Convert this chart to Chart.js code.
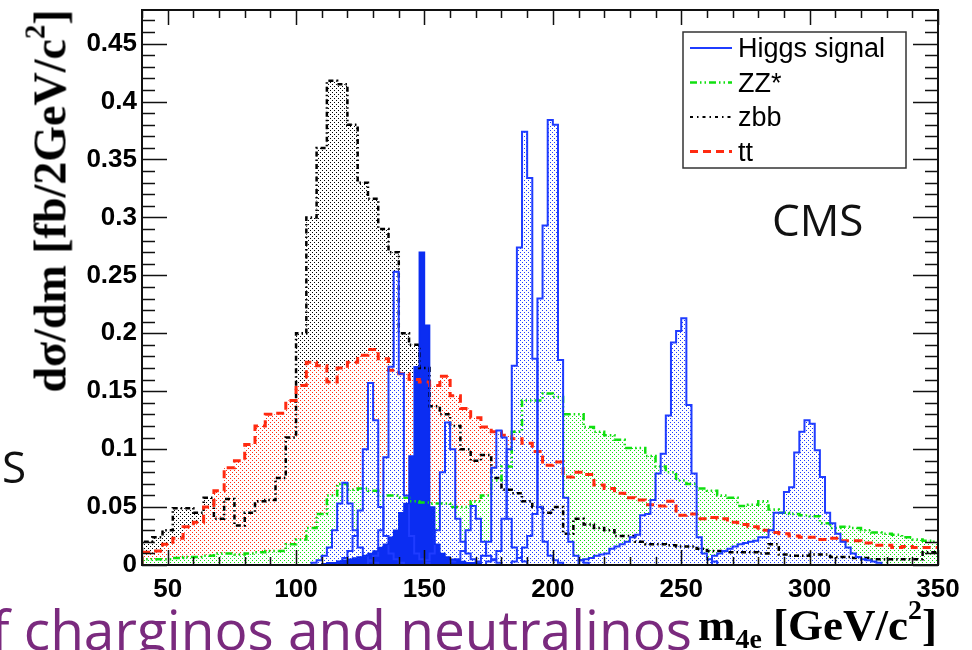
<!DOCTYPE html>
<html>
<head>
<meta charset="utf-8">
<script src="https://cdn.jsdelivr.net/npm/chart.js@4.4.0/dist/chart.umd.min.js"></script>
<style>
  html, body { margin: 0; padding: 0; background: #fff; }
  #wrap { position: relative; width: 972px; height: 650px; overflow: hidden; }
  #chart { position: absolute; left: 0; top: 0; }
  .txt { position: absolute; white-space: nowrap; line-height: 1; }
  #ytitle { font: bold 46px "Liberation Serif", serif; left: 50px; top: 201px; transform: translate(-50%, -50%) rotate(-90deg); }
  #xtitle { font: bold 45px "Liberation Serif", serif; left: 698px; top: 599px; }
  sup { font-size: 62%; vertical-align: 0.75em; line-height: 0; }
  sub { font-size: 62%; vertical-align: -0.3em; line-height: 0; }
  #cms { font: 44px "Open Sans", sans-serif; left: 772px; top: 189px; color: #111; }
  #slideS { font: 44px "Open Sans", sans-serif; left: 2px; top: 436px; color: #111; }
  #slideLine { font: 55px "Open Sans", sans-serif; left: -9px; top: 591px; color: #7a2a7e; }
</style>
</head>
<body>
<div id="wrap">
  <canvas id="chart" width="972" height="650"></canvas>
  <div class="txt" id="ytitle">dσ/dm [fb/2GeV/c<sup>2</sup>]</div>
  <div class="txt" id="slideLine">f charginos and neutralinos</div>
  <div class="txt" id="xtitle">m<sub>4e</sub> [GeV/c<sup>2</sup>]</div>
  <div class="txt" id="cms">CMS</div>
  <div class="txt" id="slideS">S</div>
</div>
<script>
// axis
const X_MIN = 40, X_MAX = 350, Y_MAX = 0.479;
const xTicks = [50, 100, 150, 200, 250, 300, 350];
const yTicks = [0, 0.05, 0.1, 0.15, 0.2, 0.25, 0.3, 0.35, 0.4, 0.45];

// backgrounds, 4 GeV bins starting at 40 GeV
const BG_START = 40, BG_WIDTH = 4;
const ttValues = [
  0.011, 0.012, 0.018, 0.023, 0.033, 0.037, 0.05, 0.064, 0.084, 0.09,
  0.104, 0.12, 0.13, 0.131, 0.142, 0.155, 0.175, 0.172, 0.158, 0.17,
  0.175, 0.181, 0.186, 0.178, 0.168, 0.165, 0.16, 0.158, 0.155, 0.163,
  0.146, 0.135, 0.127, 0.119, 0.115, 0.112, 0.109, 0.105, 0.098, 0.086,
  0.089, 0.076, 0.08, 0.078, 0.069, 0.066, 0.062, 0.058, 0.056, 0.052,
  0.051, 0.055, 0.043, 0.044, 0.04, 0.041, 0.04, 0.037, 0.035, 0.033,
  0.03, 0.028, 0.027, 0.025, 0.024, 0.024, 0.022, 0.023, 0.021, 0.021,
  0.019, 0.017, 0.017, 0.015, 0.016, 0.015, 0.015, 0.015
];
const zbbValues = [
  0.02, 0.024, 0.03, 0.049, 0.049, 0.045, 0.058, 0.04, 0.057, 0.034,
  0.045, 0.055, 0.056, 0.075, 0.11, 0.2, 0.3, 0.36, 0.418, 0.415,
  0.38, 0.33, 0.316, 0.29, 0.27, 0.2, 0.19, 0.17, 0.137, 0.13,
  0.12, 0.1, 0.09, 0.095, 0.075, 0.065, 0.062, 0.055, 0.05, 0.045,
  0.05, 0.027, 0.04, 0.035, 0.032, 0.03, 0.025, 0.025, 0.02, 0.018,
  0.018, 0.017, 0.016, 0.016, 0.014, 0.012, 0.012, 0.011, 0.011, 0.011,
  0.01, 0.018, 0.009, 0.008, 0.008, 0.009, 0.009, 0.007, 0.007, 0.006,
  0.006, 0.005, 0.005, 0.005, 0.005, 0.005, 0.011, 0.011
];
const zzValues = [
  0.005, 0.005, 0.005, 0.006, 0.007, 0.007, 0.008, 0.01, 0.01, 0.009,
  0.01, 0.011, 0.012, 0.012, 0.018, 0.022, 0.032, 0.044, 0.06, 0.07,
  0.065, 0.066, 0.064, 0.06, 0.06, 0.058, 0.055, 0.054, 0.053, 0.053,
  0.05, 0.05, 0.055, 0.06, 0.073, 0.085, 0.115, 0.142, 0.142, 0.148,
  0.145, 0.13, 0.13, 0.119, 0.115, 0.112, 0.108, 0.101, 0.101, 0.094,
  0.085, 0.08, 0.073, 0.07, 0.066, 0.064, 0.06, 0.058, 0.051, 0.052,
  0.055, 0.048, 0.045, 0.044, 0.043, 0.042, 0.036, 0.032, 0.033, 0.032,
  0.03, 0.028, 0.027, 0.026, 0.024, 0.022, 0.021, 0.02
];

// Higgs signal samples, 2 GeV bins, first bin edge given separately
const SIG_WIDTH = 2;
const h120Start = 106;
const h120 = [0.002, 0.004, 0.008, 0.015, 0.03, 0.053, 0.071, 0.053, 0.03, 0.015, 0.008, 0.004, 0.002];
const h130Start = 116;
const h130 = [0.003, 0.006, 0.012, 0.025, 0.047, 0.10, 0.157, 0.125, 0.05, 0.025, 0.01, 0.005, 0.002];
const h140Start = 128;
const h140 = [0.003, 0.008, 0.03, 0.093, 0.171, 0.253, 0.165, 0.06, 0.025, 0.01, 0.005, 0.002];
const h150Start = 110;
const h150 = [
  0.001, 0.002, 0.002, 0.003, 0.004, 0.005, 0.006, 0.007, 0.008, 0.01,
  0.012, 0.015, 0.018, 0.024, 0.03, 0.045, 0.053, 0.094, 0.171, 0.27,
  0.207, 0.05, 0.018, 0.01, 0.007, 0.005, 0.004, 0.003, 0.002, 0.002, 0.001
];
const h160Start = 150;
const h160 = [0.004, 0.01, 0.03, 0.08, 0.123, 0.10, 0.04, 0.02, 0.01, 0.005, 0.002];
const h170Start = 160;
const h170 = [0.003, 0.005, 0.012, 0.03, 0.051, 0.04, 0.02, 0.008, 0.004, 0.002];
const h180Start = 170;
const h180 = [0.003, 0.008, 0.02, 0.084, 0.116, 0.11, 0.04, 0.015, 0.006, 0.003];
const h190Start = 174;
const h190 = [0.003, 0.005, 0.012, 0.04, 0.10, 0.172, 0.274, 0.374, 0.334, 0.178, 0.05, 0.02, 0.008, 0.004, 0.002];
const h200Start = 184;
const h200 = [0.003, 0.006, 0.015, 0.025, 0.044, 0.23, 0.293, 0.384, 0.38, 0.177, 0.058, 0.02, 0.008, 0.004, 0.002];
const h250Start = 210;
const h250 = [
  0.004, 0.005, 0.006, 0.008, 0.009, 0.01, 0.014, 0.016, 0.018, 0.02,
  0.024, 0.026, 0.043, 0.044, 0.056, 0.079, 0.096, 0.129, 0.192, 0.202,
  0.213, 0.138, 0.079, 0.024, 0.01, 0.005, 0.003
];
const h300Start = 262;
const h300 = [
  0.008, 0.01, 0.012, 0.014, 0.016, 0.018, 0.019, 0.02, 0.021, 0.024,
  0.024, 0.03, 0.045, 0.045, 0.063, 0.067, 0.097, 0.115, 0.125, 0.122,
  0.099, 0.076, 0.045, 0.036, 0.027, 0.02, 0.015, 0.01, 0.007, 0.005,
  0.004, 0.003, 0.002
];

const legendLabels = ["Higgs signal", "ZZ*", "zbb", "tt"];

const BLUE = "#1f3cff";
const BLUE_SOLID = "#0b2df2";
const RED = "#ff2a10";
const GREEN = "#10e010";
const BLACK = "#000";

// ROOT-like dotted fill (same dot grid for all, so upper fills replace lower ones)
function dots(color) {
  const c = document.createElement("canvas");
  c.width = 4; c.height = 4;
  const g = c.getContext("2d");
  g.fillStyle = color;
  g.fillRect(0, 0, 1, 1);
  g.fillRect(2, 2, 1, 1);
  return g.createPattern(c, "repeat");
}

// step histogram points: value of each bin is drawn from its low edge
function hist(lo, width, vals, toEnd) {
  const pts = [{ x: X_MIN, y: 0 }];
  vals.forEach((v, i) => pts.push({ x: lo + i * width, y: v }));
  pts.push({ x: lo + vals.length * width, y: 0 });
  if (toEnd) pts.push({ x: X_MAX, y: 0 });
  return pts;
}

const base = { stepped: true, pointRadius: 0, tension: 0, fill: "origin" };

function signal(start, vals) {
  return { ...base, data: hist(start, SIG_WIDTH, vals, true), borderColor: BLUE, borderWidth: 2, backgroundColor: dots(BLUE) };
}

// first dataset is drawn on top
const datasets = [
  { ...base, data: hist(h150Start, SIG_WIDTH, h150, true), borderColor: BLUE_SOLID, borderWidth: 1.5, backgroundColor: BLUE_SOLID },
  signal(h120Start, h120),
  signal(h130Start, h130),
  signal(h140Start, h140),
  signal(h160Start, h160),
  signal(h170Start, h170),
  signal(h180Start, h180),
  signal(h190Start, h190),
  signal(h200Start, h200),
  signal(h250Start, h250),
  signal(h300Start, h300),
  { ...base, data: hist(BG_START, BG_WIDTH, zzValues, false), borderColor: GREEN, borderWidth: 2.5, borderDash: [7, 3, 1.5, 3, 1.5, 3], backgroundColor: dots(GREEN) },
  { ...base, data: hist(BG_START, BG_WIDTH, ttValues, false), borderColor: RED, borderWidth: 3, borderDash: [8, 5], backgroundColor: dots(RED) },
  { ...base, data: hist(BG_START, BG_WIDTH, zbbValues, false), borderColor: BLACK, borderWidth: 2.5, borderDash: [5, 3, 1.5, 3], backgroundColor: dots(BLACK) }
];

// frame with inward ticks on all four sides
const frame = {
  id: "frame",
  afterDatasetsDraw(chart) {
    const { ctx, chartArea: a, scales: { x, y } } = chart;
    ctx.save();
    ctx.strokeStyle = "#111";
    ctx.lineWidth = 1.5;
    ctx.beginPath();
    for (let v = X_MIN; v <= X_MAX; v += 10) {
      const px = Math.round(x.getPixelForValue(v)) + 0.5;
      const len = v % 50 === 0 ? 15 : 8;
      ctx.moveTo(px, a.bottom); ctx.lineTo(px, a.bottom - len);
      ctx.moveTo(px, a.top); ctx.lineTo(px, a.top + len);
    }
    for (let i = 0; i <= 47; i++) {
      const py = Math.round(y.getPixelForValue(i / 100)) + 0.5;
      const len = i % 5 === 0 ? 25 : 13;
      ctx.moveTo(a.left, py); ctx.lineTo(a.left + len, py);
      ctx.moveTo(a.right, py); ctx.lineTo(a.right - len, py);
    }
    ctx.stroke();
    ctx.lineWidth = 2;
    ctx.strokeRect(a.left, a.top, a.right - a.left, a.bottom - a.top);
    ctx.restore();
  }
};

const legendBox = {
  id: "legendBox",
  afterDraw(chart) {
    const { ctx, chartArea: a } = chart;
    const left = a.right - 255, top = a.top + 22, w = 223, h = 136;
    const styles = [
      { color: BLUE, dash: [], width: 2 },
      { color: GREEN, dash: [7, 3, 1.5, 3, 1.5, 3], width: 2.5 },
      { color: BLACK, dash: [3, 4, 1.5, 4], width: 2 },
      { color: RED, dash: [8, 5], width: 3 }
    ];
    ctx.save();
    ctx.fillStyle = "#fff";
    ctx.fillRect(left, top, w, h);
    ctx.strokeStyle = "#333";
    ctx.lineWidth = 1.5;
    ctx.strokeRect(left, top, w, h);
    ctx.font = "27px 'Liberation Sans', Arial, sans-serif";
    ctx.fillStyle = "#000";
    ctx.textBaseline = "alphabetic";
    legendLabels.forEach((label, i) => {
      const cy = top + 16 + i * 34.5;
      const s = styles[i];
      ctx.beginPath();
      ctx.setLineDash(s.dash);
      ctx.strokeStyle = s.color;
      ctx.lineWidth = s.width;
      ctx.moveTo(left + 7, cy);
      ctx.lineTo(left + 49, cy);
      ctx.stroke();
      ctx.setLineDash([]);
      ctx.fillText(label, left + 55, cy + 9);
    });
    ctx.restore();
  }
};

const tickFont = { family: "'Liberation Sans', Arial, sans-serif", size: 26, weight: "bold" };

new Chart(document.getElementById("chart"), {
  type: "line",
  data: { datasets },
  options: {
    responsive: false,
    animation: false,
    devicePixelRatio: 1,
    layout: { padding: { left: 0, top: 10, right: 34, bottom: 0 } },
    plugins: {
      legend: { display: false },
      tooltip: { enabled: false },
      filler: { drawTime: "beforeDatasetsDraw" }
    },
    scales: {
      x: {
        type: "linear",
        min: X_MIN,
        max: X_MAX,
        grid: { display: false, drawTicks: false },
        border: { display: false },
        ticks: { font: tickFont, color: "#000", padding: 9, maxRotation: 0, autoSkip: false },
        afterBuildTicks: s => { s.ticks = xTicks.map(v => ({ value: v })); },
        afterFit: s => { s.height = 85; s.paddingLeft = 0; s.paddingRight = 0; }
      },
      y: {
        type: "linear",
        min: 0,
        max: Y_MAX,
        grid: { display: false, drawTicks: false },
        border: { display: false },
        ticks: {
          font: tickFont, color: "#000", padding: 5, autoSkip: false,
          callback: v => String(Math.round(v * 100) / 100)
        },
        afterBuildTicks: s => { s.ticks = yTicks.map(v => ({ value: v })); },
        afterFit: s => { s.width = 142; s.paddingTop = 0; s.paddingBottom = 0; }
      }
    }
  },
  plugins: [frame, legendBox]
});
</script>
</body>
</html>
